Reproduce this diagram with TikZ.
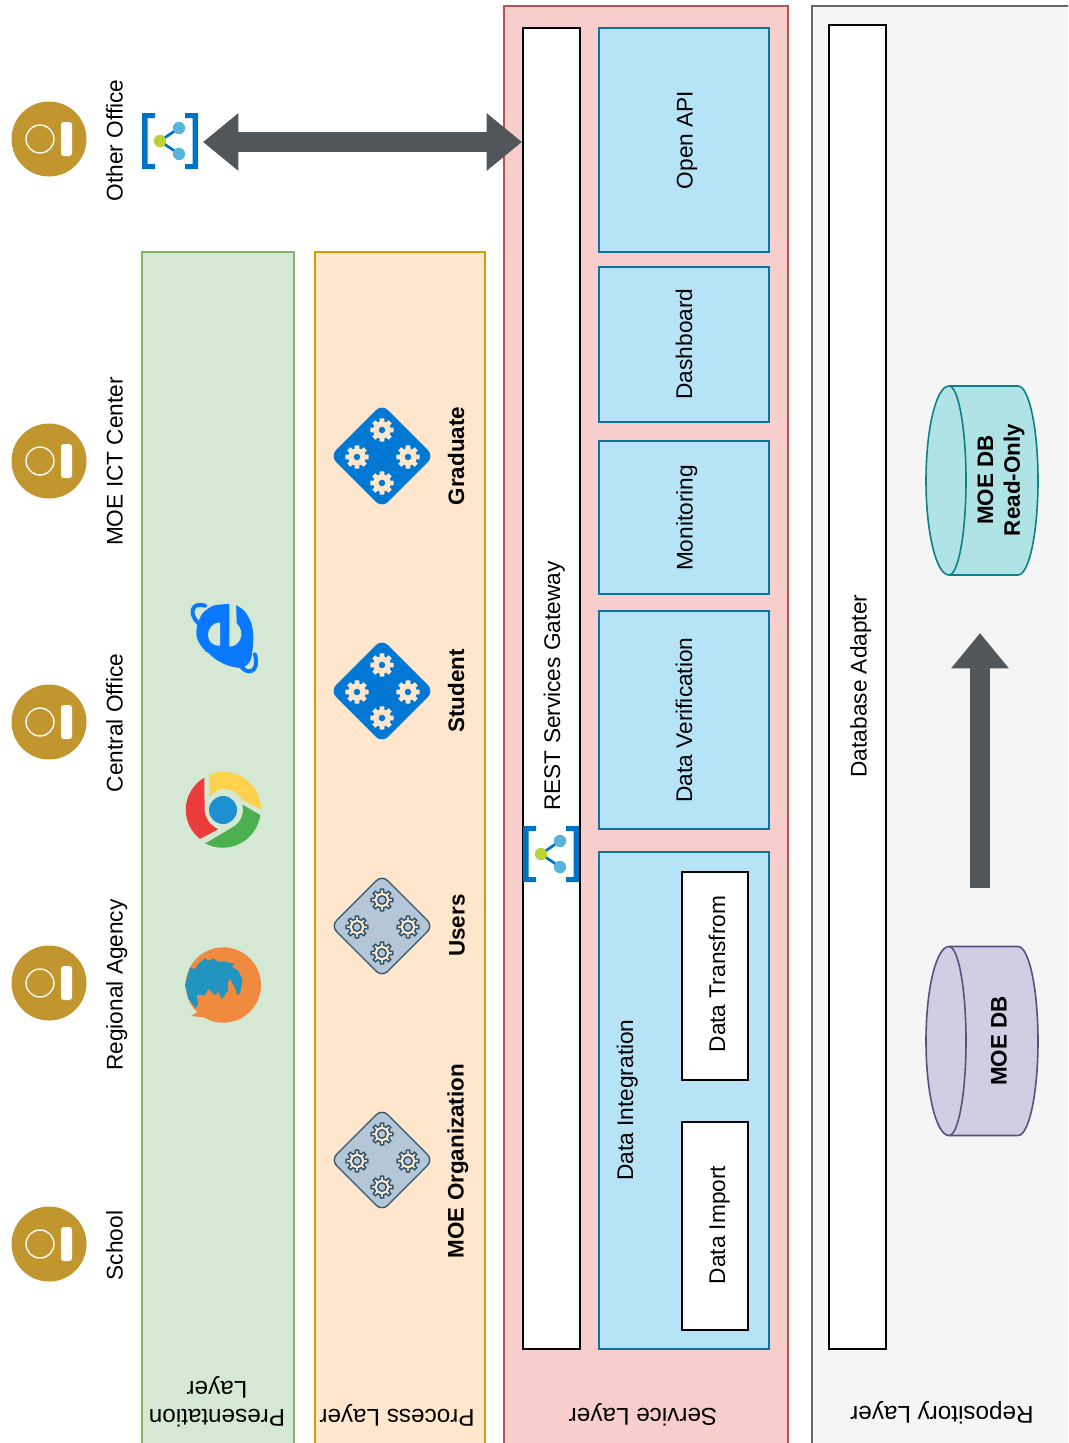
\documentclass[tikz,border=0pt]{standalone}
\usepackage{fontspec}
\setmainfont{Liberation Sans}
\usetikzlibrary{arrows.meta}
\definecolor{goldcol}{HTML}{C1962E}
\definecolor{arrowcol}{HTML}{50565A}
\definecolor{azurecol}{HTML}{0072C6}
\definecolor{gearblue}{HTML}{0078D4}
\definecolor{skycol}{HTML}{59B4D9}
\definecolor{limecol}{HTML}{B8D432}
\definecolor{svcfill}{HTML}{B6E3F6}
\definecolor{svcline}{HTML}{10739E}
\definecolor{greenfill}{HTML}{D5E8D4}
\definecolor{greenline}{HTML}{82B366}
\definecolor{peachfill}{HTML}{FFE6CC}
\definecolor{peachline}{HTML}{D79B00}
\definecolor{pinkfill}{HTML}{F8CECC}
\definecolor{pinkline}{HTML}{B85450}
\definecolor{greyfill}{HTML}{F5F5F5}
\definecolor{greyline}{HTML}{666666}
\definecolor{slatefill}{HTML}{B5C7D6}
\definecolor{slateline}{HTML}{2D5670}
\definecolor{tealfill}{HTML}{B0E3E6}
\definecolor{tealline}{HTML}{0E8088}
\definecolor{purplefill}{HTML}{D0CEE2}
\definecolor{purpleline}{HTML}{56517E}
\definecolor{iecol}{HTML}{0A78FF}
\definecolor{chromey}{HTML}{FFD24D}
\definecolor{chromer}{HTML}{EB3B3B}
\definecolor{chromeg}{HTML}{4CAF50}
\definecolor{chromeb}{HTML}{1E90D2}
\definecolor{foxo}{HTML}{EF8A3F}
\definecolor{foxb}{HTML}{2294C0}
\tikzstyle{layer}=[line width=1.2pt]
\tikzstyle{svc}=[line width=1.2pt,fill=svcfill,draw=svcline]
\tikzstyle{whitebox}=[line width=1.2pt,fill=white,draw=black]
\tikzstyle{txt}=[font=\fontsize{17}{20}\selectfont,inner sep=0,rotate=90,anchor=base]
\tikzstyle{btxt}=[font=\fontsize{16.8}{20}\selectfont\bfseries,inner sep=0,rotate=90,align=center]
\tikzstyle{laytxt}=[font=\fontsize{18.2}{21}\selectfont,inner sep=0,rotate=180,align=center]
\tikzstyle{bigarrow}=[arrowcol,line width=14.5pt]
\tikzset{
  person/.pic={
    \fill[goldcol] (0,0) circle (37.5);
    \draw[white,line width=1pt] (-9,0) circle (14);
    \fill[white,rounded corners=2pt] (12,-17) rectangle (23,17);
  },
  sharer/.pic={
    \fill[azurecol] (-28,-28) -- (-15,-28) -- (-15,-23) -- (-22.5,-23) -- (-22.5,23) -- (-15,23)
      -- (-15,28) -- (-28,28) -- cycle;
    \fill[azurecol] (28,-28) -- (15,-28) -- (15,-23) -- (22.5,-23) -- (22.5,23) -- (15,23)
      -- (15,28) -- (28,28) -- cycle;
    \draw[azurecol,line width=2pt] (9,-13) -- (-10,0) -- (9,13);
    \fill[skycol] (9,-13) circle (6.2);
    \fill[skycol] (9,13) circle (6.2);
    \fill[limecol] (-10,0) circle (6.2);
  },
  gearbox/.pic={
    \draw[fill=\dfill,draw=\dline,line width=1pt,rounded corners=6pt]
      (-51,0) -- (0,-51) -- (51,0) -- (0,51) -- cycle;
    \foreach \gx/\gy in {0/-26,-25/1,26/1,0/27}{
      \begin{scope}[shift={(\gx,\gy)}]
        \draw[fill=peachfill,draw=\gline,line width=1.1pt] (-16:8)
          \foreach \a in {0,45,...,315}{ -- (\a-12:8) -- (\a-8:11) -- (\a+8:11) -- (\a+12:8) } -- cycle;
        \draw[fill=\dfill,draw=\gline,line width=1.1pt] (0,0) circle (4.2);
      \end{scope}
    }
  },
  drum/.pic={
    \draw[line width=1.2pt,fill=\cfill,draw=\cline] (36,-94.5)
      arc[start angle=-90,end angle=90,x radius=20,y radius=94.5] -- (-33,94.5)
      arc[start angle=90,end angle=270,x radius=23,y radius=94.5] -- cycle;
    \draw[line width=1.2pt,draw=\cline] (-33,-94.5)
      arc[start angle=-90,end angle=90,x radius=17,y radius=94.5];
  }
}

\begin{document}
\begin{tikzpicture}[x=0.75pt,y=-0.75pt]
  \useasboundingbox (0,0) rectangle (1068,1443);
  \clip (0,0) rectangle (1068,1443);

  % LAYERS
  \draw[layer,fill=greenfill,draw=greenline] (142,252) rectangle (294,1460);
  \draw[layer,fill=peachfill,draw=peachline] (315,252) rectangle (485,1460);
  \draw[layer,fill=pinkfill,draw=pinkline] (504,6) rectangle (788,1460);
  \draw[layer,fill=greyfill,draw=greyline] (812,6) rectangle (1080,1460);
  \node[laytxt] (presentation) at (217,1402) {Presentation\\Layer};
  \node[laytxt] (process) at (397,1415) {Process Layer};
  \node[laytxt] (service) at (643,1415) {Service Layer};
  \node[laytxt] (repository) at (942,1413) {Repository Layer};

  % USERS
  \foreach \y/\ly/\name/\label in {139/140.5/other/Other Office,461/461.5/ict/MOE ICT Center,
    722/723/central/Central Office,983/985/regional/Regional Agency,1244/1245.5/school/School}{
    \pic at (49,\y) {person};
    \node[txt] (\name) at (122.5,\ly) {\label};
  }

  % BROWSERS
  \begin{scope}[shift={(180,595)},scale=1/3]
    \fill[iecol] plot[smooth cycle] coordinates
      {(148,27) (100,32) (68,55) (52,90) (50,125) (65,155) (95,185) (140,210) (185,218) (212,195) (220,130) (214,85) (195,50) (168,30)};
    \draw[iecol,line width=3pt,line cap=round] (75,32) .. controls (35,20) and (25,55) .. (55,85);
    \draw[iecol,line width=3pt,line cap=round] (225,178) .. controls (240,240) and (195,240) .. (180,208);
    \fill[greenfill] (120,82) .. controls (72,85) and (72,155) .. (120,152) -- cycle;
    \fill[greenfill] (148,20) -- (148,155) .. controls (178,155) and (200,115) .. (170,85) -- (168,20) -- cycle;
    \draw[greenfill,line width=.8pt] (80,172) -- (104,194);
  \end{scope}
  \begin{scope}[shift={(223,810)}]
    \fill[chromey] (-13.7,-35.7) arc[start angle=-111,end angle=-1,radius=38.2]
      -- (19,-10) arc[start angle=-28,end angle=-98,radius=21.5] -- (-13.7,-14) -- cycle;
    \fill[chromeg] (20,-5) -- (37.3,5) arc[start angle=8,end angle=117.5,radius=38]
      -- (10,17) arc[start angle=60,end angle=-14,radius=20] -- cycle;
    \fill[chromer] (-18.7,-32.3) arc[start angle=-120,end angle=-232,radius=37]
      -- (-5,19.3) .. controls (-14,14) and (-18,8) .. (-18.4,0) -- cycle;
    \fill[chromeb] (0,0) circle (14);
  \end{scope}
  \begin{scope}[shift={(180,940)},scale=1/3]
    \fill[foxo] (130,135) circle (113);
    \fill[foxo] (33,228) -- (70,205) -- (70,232) -- cycle;
    \fill[foxb] (30,82) -- (45,88) -- (55,72) -- (75,55) -- (85,62) -- (100,55) -- (115,65)
      -- (135,65) -- (165,72) -- (155,80) -- (175,92) -- (188,120) -- (180,160) -- (172,165) -- (165,145)
      -- (150,115) -- (143,130) -- (145,150) -- (125,178) -- (115,155) -- (105,165) -- (85,145) -- (75,165)
      -- (50,165) -- (55,190) -- (47,205) -- (25,175) -- (15,135) -- cycle;
  \end{scope}

  % PROCESSES
  \foreach \y/\ty/\name/\label/\dfill/\dline/\gline/\lx in {456/456/graduate/Graduate/gearblue/gearblue/peachfill/456,
    691/691/student/Student/gearblue/gearblue/peachfill/456,926/925.5/usr/Users/slatefill/slateline/slateline/457,
    1160/1161/organization/MOE Organization/slatefill/slateline/slateline/458}{
    \pic at (382,\y) {gearbox};
    \node[btxt] (\name) at (\lx,\ty) {\label};
  }

  % SERVICES
  \draw[whitebox] (523,28) rectangle (580,1349);
  \node[txt] (gateway) at (560,686) {REST Services Gateway};
  \coordinate (gatewayin) at (522,142);
  \draw[svc] (599,28) rectangle (769,252);
  \node[txt] (openapi) at (692.5,140) {Open API};
  \draw[svc] (599,267) rectangle (769,422);
  \node[txt] (dashboard) at (692,344) {Dashboard};
  \draw[svc] (599,441) rectangle (769,594);
  \node[txt] (monitoring) at (692.5,518) {Monitoring};
  \draw[svc] (599,611) rectangle (769,829);
  \node[txt] (verification) at (692,720) {Data Verification};
  \draw[svc] (599,852) rectangle (769,1349);
  \node[txt] (integration) at (633,1100) {Data Integration};
  \draw[whitebox] (682,872) rectangle (748,1080);
  \node[txt] (transform) at (725,974) {Data Transfrom};
  \draw[whitebox] (682,1122) rectangle (748,1330);
  \node[txt] (import) at (725,1225) {Data Import};
  \pic at (551,854) {sharer};

  % OTHER OFFICE LINK
  \pic at (170,141) {sharer};
  \coordinate (otherout) at (203,142);
  \draw[bigarrow,{Triangle[length=26.5pt,width=41.5pt]}-{Triangle[length=26.5pt,width=41.5pt]}] (otherout) -- (gatewayin);

  % REPOSITORY
  \draw[whitebox] (829,25) rectangle (886,1349);
  \node[txt] (adapter) at (866.5,686) {Database Adapter};
  \def\cfill{tealfill}\def\cline{tealline}
  \pic at (982,480.5) {drum};
  \node[btxt] (readonly) at (1001,480) {MOE DB\\Read-Only};
  \def\cfill{purplefill}\def\cline{purpleline}
  \pic at (982,1041) {drum};
  \node[btxt] (moedb) at (999,1041) {MOE DB};
  \coordinate (dbout) at (980,888);
  \coordinate (dbin) at (980,633);
  \draw[bigarrow,-{Triangle[length=26.5pt,width=41.5pt]}] (dbout) -- (dbin);
\end{tikzpicture}
\end{document}
